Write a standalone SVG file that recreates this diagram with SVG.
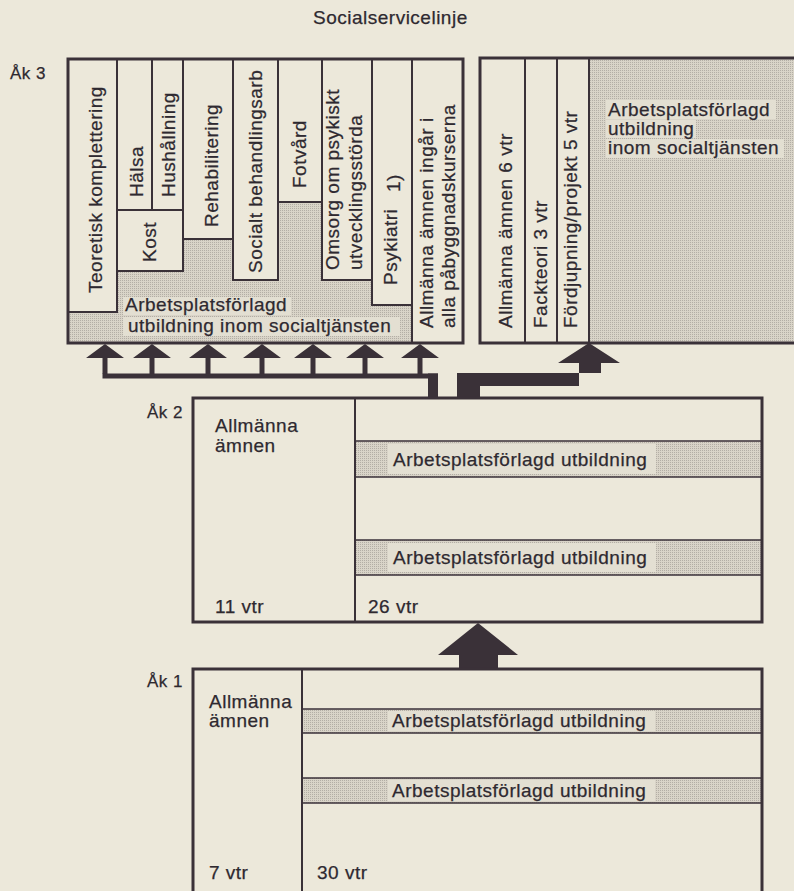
<svg xmlns="http://www.w3.org/2000/svg" width="794" height="891" viewBox="0 0 794 891">
<defs>
<pattern id="ht" width="2" height="2" patternUnits="userSpaceOnUse">
<rect width="2" height="2" fill="#d9d4c8"/>
<rect width="1" height="1" fill="#b3aea5"/>
</pattern>
<style>
text{font-family:"Liberation Sans",Arial,sans-serif;font-size:19px;letter-spacing:0.5px;fill:#2e2930;stroke:#2e2930;stroke-width:0.25}
.lbl{font-size:17px;letter-spacing:0.5px}
.box{fill:none;stroke:#3a3138;stroke-width:3}
.col{fill:#ece8da;stroke:#3a3138;stroke-width:2}
.gray{fill:url(#ht)}
.page{fill:#ece8da}
.hl{fill:#e3dfd2}
.ln{stroke:#3a3138;stroke-width:2;fill:none}
.thin{stroke:#3a3138;stroke-width:1.5;fill:none}
.ink{fill:#3a3138}
</style>
</defs>
<rect class="page" x="0" y="0" width="794" height="891"/>

<text id="title" x="313" y="24">Socialservicelinje</text>

<g id="ak3-label"><text class="lbl" x="10" y="79">Åk 3</text></g>

<g id="ak3-left">
<rect class="gray" x="68" y="59" width="395" height="284"/>
<rect class="hl" x="123" y="297" width="168" height="18"/>
<rect class="hl" x="123" y="317" width="277" height="19"/>
<rect class="col" x="68" y="59" width="49" height="253"/>
<rect class="col" x="117" y="59" width="66" height="151"/>
<line class="ln" x1="152" y1="59" x2="152" y2="210"/>
<rect class="col" x="117" y="210" width="66" height="61"/>
<rect class="col" x="183" y="59" width="50" height="180"/>
<rect class="col" x="233" y="59" width="45" height="221"/>
<rect class="col" x="278" y="59" width="44" height="143"/>
<rect class="col" x="322" y="59" width="50" height="221"/>
<rect class="col" x="372" y="59" width="40" height="246"/>
<rect class="col" x="412" y="59" width="51" height="284"/>
<rect class="box" x="68" y="59" width="395" height="284"/>
<text transform="translate(102,293) rotate(-90)">Teoretisk komplettering</text>
<text transform="translate(143,197) rotate(-90)">Hälsa</text>
<text transform="translate(175,197) rotate(-90)">Hushållning</text>
<text transform="translate(156,262) rotate(-90)">Kost</text>
<text transform="translate(218,227) rotate(-90)">Rehabilitering</text>
<text transform="translate(262,273) rotate(-90)">Socialt behandlingsarb</text>
<text transform="translate(306,188) rotate(-90)">Fotvård</text>
<text transform="translate(339,270) rotate(-90)">Omsorg om psykiskt</text>
<text transform="translate(362,270) rotate(-90)">utvecklingsstörda</text>
<text transform="translate(400,192) rotate(-90)">1)</text>
<text transform="translate(397,285) rotate(-90)">Psykiatri</text>
<text transform="translate(433,328) rotate(-90)">Allmänna ämnen ingår i</text>
<text transform="translate(455,328) rotate(-90)">alla påbyggnadskurserna</text>
<text x="125" y="311">Arbetsplatsförlagd</text>
<text x="128" y="332">utbildning inom socialtjänsten</text>
</g>

<g id="ak3-right">
<rect class="gray" x="480" y="58" width="330" height="285"/>
<rect class="hl" x="606" y="100" width="170" height="19"/>
<rect class="hl" x="606" y="120" width="90" height="18"/>
<rect class="hl" x="606" y="139" width="178" height="19"/>
<rect class="col" x="480" y="58" width="45" height="285"/>
<rect class="col" x="525" y="58" width="32" height="285"/>
<rect class="col" x="557" y="58" width="32" height="285"/>
<rect class="box" x="480" y="58" width="330" height="285"/>
<text transform="translate(512,328) rotate(-90)">Allmänna ämnen 6 vtr</text>
<text transform="translate(547,328) rotate(-90)">Fackteori 3 vtr</text>
<text transform="translate(577,328) rotate(-90)">Fördjupning/projekt 5 vtr</text>
<text x="608" y="116">Arbetsplatsförlagd</text>
<text x="608" y="135">utbildning</text>
<text x="608" y="154">inom socialtjänsten</text>
</g>

<g id="connectors" class="ink">
<path d="M86,358 L105,344 L124,358 H107.5 V374 H102.5 V358 Z"/>
<path d="M133,358 L152,344 L171,358 H154.5 V374 H149.5 V358 Z"/>
<path d="M189,358 L208,344 L227,358 H210.5 V374 H205.5 V358 Z"/>
<path d="M243,358 L262,344 L281,358 H264.5 V374 H259.5 V358 Z"/>
<path d="M294,358 L313,344 L332,358 H315.5 V374 H310.5 V358 Z"/>
<path d="M346,358 L365,344 L384,358 H367.5 V374 H362.5 V358 Z"/>
<path d="M401,358 L420,344 L439,358 H422.5 V374 H417.5 V358 Z"/>
<rect x="102.5" y="373.5" width="335.5" height="5"/>
<rect x="428" y="373.5" width="10" height="25"/>
<path d="M457,398 V373 H601 V363 H620 L589,343 L558,363 H579 V386 H480 V398 Z"/>
<path d="M459,669 V655 H438 L478,623 L518,655 H498 V669 Z"/>
</g>

<g id="ak2">
<text class="lbl" x="147" y="418">Åk 2</text>
<rect class="page" x="193" y="398" width="569" height="224"/>
<rect class="gray" x="355" y="441" width="407" height="36"/>
<rect class="hl" x="388" y="444" width="268" height="30"/>
<rect class="gray" x="355" y="540" width="407" height="35"/>
<rect class="hl" x="388" y="543" width="268" height="29"/>
<line class="thin" x1="355" y1="441" x2="762" y2="441"/>
<line class="thin" x1="355" y1="477" x2="762" y2="477"/>
<line class="thin" x1="355" y1="540" x2="762" y2="540"/>
<line class="thin" x1="355" y1="575" x2="762" y2="575"/>
<line class="ln" x1="355" y1="398" x2="355" y2="622"/>
<rect class="box" x="193" y="398" width="569" height="224"/>
<text x="215" y="432">Allmänna</text>
<text x="215" y="452">ämnen</text>
<text x="393" y="466">Arbetsplatsförlagd utbildning</text>
<text x="393" y="564">Arbetsplatsförlagd utbildning</text>
<text x="215" y="613">11 vtr</text>
<text x="368" y="613">26 vtr</text>
</g>

<g id="ak1">
<text class="lbl" x="147" y="687">Åk 1</text>
<rect class="page" x="193" y="669" width="569" height="240"/>
<rect class="gray" x="302" y="709" width="460" height="24"/>
<rect class="hl" x="388" y="711" width="267" height="20"/>
<rect class="gray" x="302" y="778" width="460" height="25"/>
<rect class="hl" x="388" y="780" width="267" height="21"/>
<line class="thin" x1="302" y1="709" x2="762" y2="709"/>
<line class="thin" x1="302" y1="733" x2="762" y2="733"/>
<line class="thin" x1="302" y1="778" x2="762" y2="778"/>
<line class="thin" x1="302" y1="803" x2="762" y2="803"/>
<line class="ln" x1="302" y1="669" x2="302" y2="900"/>
<rect class="box" x="193" y="669" width="569" height="240"/>
<text x="209" y="708">Allmänna</text>
<text x="209" y="727">ämnen</text>
<text x="392" y="727">Arbetsplatsförlagd utbildning</text>
<text x="392" y="797">Arbetsplatsförlagd utbildning</text>
<text x="209" y="879">7 vtr</text>
<text x="317" y="879">30 vtr</text>
</g>
</svg>
